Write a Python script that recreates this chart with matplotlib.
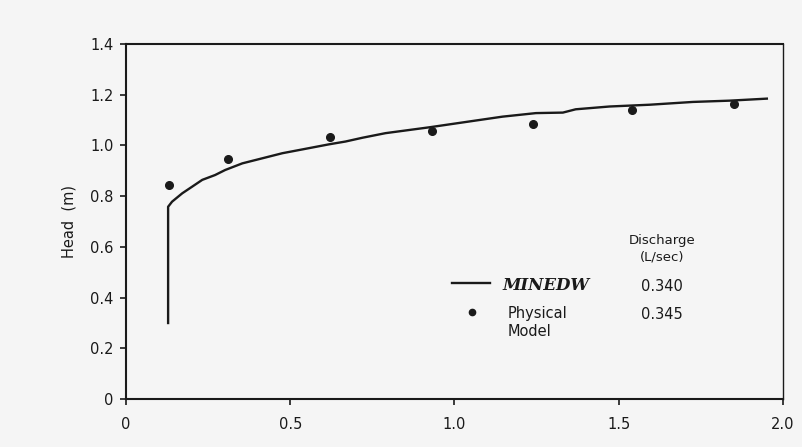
import matplotlib
matplotlib.use("Agg")
import matplotlib.pyplot as plt

# Physical model observations
phys_x = [0.13, 0.31, 0.62, 0.93, 1.24, 1.54, 1.85]
phys_y = [0.844, 0.946, 1.033, 1.057, 1.084, 1.140, 1.163]

# MINEDW simulated head profile
mine_x = [0.128, 0.128, 0.14, 0.171, 0.201, 0.232, 0.271, 0.302, 0.354, 0.415,
          0.476, 0.537, 0.618, 0.668, 0.72, 0.79, 0.923, 1.045, 1.146, 1.248,
          1.33, 1.369, 1.472, 1.594, 1.726, 1.837, 1.951]
mine_y = [0.30, 0.758, 0.778, 0.811, 0.837, 0.864, 0.883, 0.903, 0.929, 0.949,
          0.969, 0.984, 1.004, 1.015, 1.030, 1.048, 1.071, 1.094, 1.113, 1.127,
          1.129, 1.142, 1.153, 1.160, 1.171, 1.176, 1.184]

x_ticks = [0, 0.5, 1.0, 1.5, 2.0]
x_labels = ["0", "0.5", "1.0", "1.5", "2.0"]
y_ticks = [0, 0.2, 0.4, 0.6, 0.8, 1.0, 1.2, 1.4]
y_labels = ["0", "0.2", "0.4", "0.6", "0.8", "1.0", "1.2", "1.4"]

legend_names = ["MINEDW", "Physical\nModel"]
legend_discharge = ["0.340", "0.345"]
discharge_header = "Discharge\n(L/sec)"

bg = "#f5f5f5"
ink = "#1a1a1a"

plt.rcParams['font.family'] = ['DejaVu Sans']
fig = plt.figure(figsize=(8.03, 4.47), dpi=100, facecolor=bg)
ax = fig.add_axes([0.157, 0.107, 0.818, 0.795])
ax.set_facecolor(bg)

ax.plot(mine_x, mine_y, color=ink, lw=1.7)
ax.plot(phys_x, phys_y, 'o', color=ink, ms=5.5)

ax.set_xlim(0, 2.0)
ax.set_ylim(0, 1.4)
ax.set_xticks(x_ticks)
ax.set_xticklabels(x_labels)
ax.set_yticks(y_ticks)
ax.set_yticklabels(y_labels)
ax.tick_params(axis='both', direction='out', length=4, width=1.2, colors=ink,
               labelsize=10.5, pad=5)
ax.tick_params(axis='x', pad=9)
for s in ax.spines.values():
    s.set_color(ink)
    s.set_linewidth(1.5)
ax.spines['right'].set_linewidth(1.0)

ax.set_ylabel("Head  (m)", fontsize=10.5, color=ink, labelpad=10)

# Legend (manual)
tr = ax.transAxes
ax.plot([0.496, 0.554], [0.327, 0.327], color=ink, lw=1.7, transform=tr, clip_on=False)
ax.plot([0.527], [0.245], 'o', color=ink, ms=4.5, transform=tr, clip_on=False)
ax.text(0.573, 0.321, legend_names[0], transform=tr, fontsize=12, color=ink,
        family='DejaVu Serif', fontweight='bold', fontstyle='italic', va='center', ha='left')
ax.text(0.581, 0.216, legend_names[1], transform=tr, fontsize=10.5, color=ink,
        va='center', ha='left', linespacing=1.3)
ax.text(0.816, 0.423, discharge_header, transform=tr, fontsize=9.5, color=ink,
        va='center', ha='center', linespacing=1.3)
ax.text(0.816, 0.318, legend_discharge[0], transform=tr, fontsize=10.5, color=ink,
        va='center', ha='center')
ax.text(0.816, 0.237, legend_discharge[1], transform=tr, fontsize=10.5, color=ink,
        va='center', ha='center')

fig.savefig("out.png", dpi=100, facecolor=bg)
